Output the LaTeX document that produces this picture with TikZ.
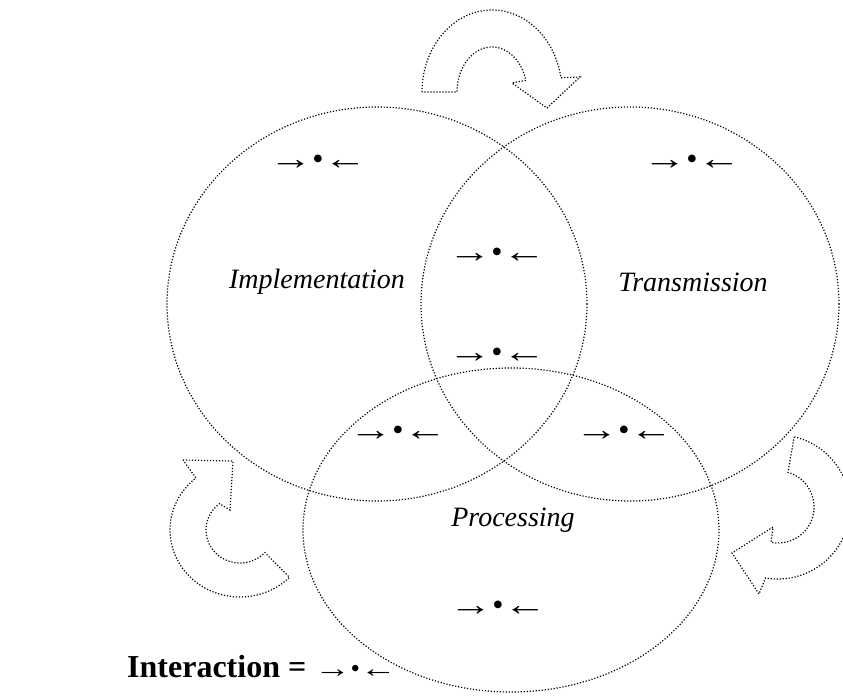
\documentclass[tikz,border=0pt]{standalone}
\usepackage{fontspec}
\setmainfont{Liberation Serif}
\newfontfamily\widearrows[FakeStretch=1.35]{Liberation Serif}
% long arrows pointing at a central dot
\newcommand\meetsym{{\widearrows →}•{\widearrows ←}}
\begin{document}
\begin{tikzpicture}[x=1pt,y=-1pt,
  dotline/.style={line width=1.2pt, dash pattern=on 1.2pt off 1.8pt},
  region/.style={inner sep=0pt, font=\fontsize{32}{36}\selectfont},
  setlabel/.style={inner sep=0pt, font=\fontsize{28}{32}\selectfont\itshape},
  legend/.style={inner sep=0pt, anchor=west, font=\fontsize{32}{36}\selectfont}]
\useasboundingbox (0,0) rectangle (843,700);
\clip (0,0) rectangle (843,700);

% the three overlapping sets
\draw[dotline] (377,304) ellipse [x radius=210pt, y radius=197pt];
\draw[dotline] (630,304) ellipse [x radius=209pt, y radius=197pt];
\draw[dotline] (511,530) ellipse [x radius=208pt, y radius=162pt];

% curved arrow over the top
\draw[dotline] plot[domain=180:10, samples=60] ({492+70*cos(\x)},{92-82*sin(\x)})
  -- (580,77) -- (547,108) -- (512,83)
  -- plot[domain=15:180, samples=40] ({492+35*cos(\x)},{92-45*sin(\x)}) -- cycle;

% curved arrow at the lower left
\draw[dotline] (183,460) -- (233,461) -- (230,510)
  -- plot[domain=127:317, samples=50] ({240+34*cos(\x)},{530-33*sin(\x)})
  -- plot[domain=-45:-231, samples=60] ({240+70*cos(\x)},{530-67*sin(\x)}) -- cycle;

% curved arrow at the lower right
\draw[dotline] plot[domain=77:-100, samples=60] ({778+72*cos(\x)},{507-72*sin(\x)})
  -- (759,594) -- (732,553) -- (773,527)
  -- plot[domain=-101:74, samples=50] ({778+36*cos(\x)},{507-36*sin(\x)}) -- cycle;

% set names
\node[setlabel] (impl)  at (317,282) {Implementation};
\node[setlabel] (trans) at (693,282) {Transmission};
\node[setlabel] (proc)  at (513,520) {Processing};

% interaction markers in every region
\node[region] (mI)   at (318,162) {\meetsym};
\node[region] (mT)   at (692,162) {\meetsym};
\node[region] (mIT)  at (497,255) {\meetsym};
\node[region] (mITP) at (497,355) {\meetsym};
\node[region] (mIP)  at (398,433) {\meetsym};
\node[region] (mTP)  at (624,433) {\meetsym};
\node[region] (mP)   at (498,608) {\meetsym};

% key
\node[legend] (key) at (127,667) {{\bfseries Interaction =} {\fontsize{27}{32}\selectfont\meetsym}};
\end{tikzpicture}
\end{document}
